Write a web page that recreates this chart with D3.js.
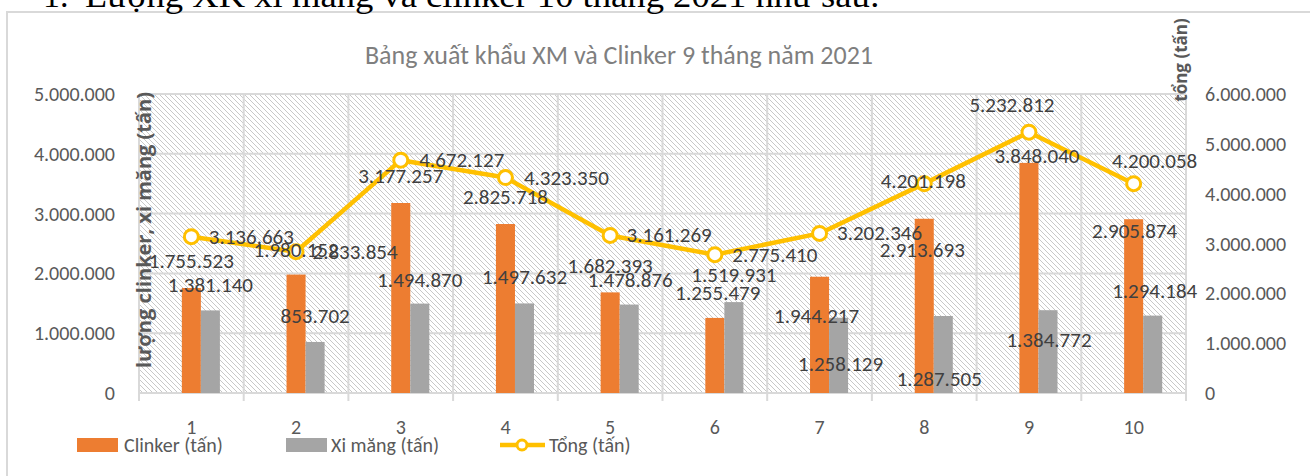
<!DOCTYPE html>
<meta charset="utf-8">
<script src="https://d3js.org/d3.v7.min.js"></script>
<style>
  body { margin: 0; background: #fff; overflow: hidden; }
  text { font-family: Calibri, Carlito, "Liberation Sans Narrow", "Arial Narrow", sans-serif; }
</style>
<div id="my_dataviz"></div>
<script>
// data (tấn)
var months = ["1", "2", "3", "4", "5", "6", "7", "8", "9", "10"]
var clinker = [1755523, 1980152, 3177257, 2825718, 1682393, 1255479, 1944217, 2913693, 3848040, 2905874]
var ximang = [1381140, 853702, 1494870, 1497632, 1478876, 1519931, 1258129, 1287505, 1384772, 1294184]
var tong = [3136663, 2833854, 4672127, 4323350, 3161269, 2775410, 3202346, 4201198, 5232812, 4200058]
var leftTicks = [0, 1000000, 2000000, 3000000, 4000000, 5000000]
var rightTicks = [0, 1000000, 2000000, 3000000, 4000000, 5000000, 6000000]

// hand placed data labels in the original (pixel nudges of the label centre)
var clinkerNudge = [[0,-27],[0,-25],[0,-27],[0,-27],[0,-26],[3,-25],[-3,39],[-2,31],[8,-7],[1,12]]
var ximangNudge = [[0,-25],[0,-26],[0,-24],[0,-26],[1,-25],[0,-27],[2,46],[-4,63],[1,30],[2,-25]]
var tongNudge = [[60,0],[59,0],[61,0],[61,0],[59,0],[60,0],[60,0],[-1,-3],[-17,-27],[21,-23]]

var fmt = d3.formatLocale({ decimal: ",", thousands: ".", grouping: [3], currency: ["", ""] }).format(",d")

var W = 1310, H = 476
var plot = { left: 139, right: 1186, top: 94, bottom: 393 }

var svg = d3.select("#my_dataviz").append("svg")
    .attr("width", W).attr("height", H)

// hatch for plot background
var defs = svg.append("defs")
defs.append("pattern")
    .attr("id", "hatch").attr("patternUnits", "userSpaceOnUse")
    .attr("width", 5).attr("height", 5)
    .append("path")
    .attr("d", "M0,0 L5,5 M-1,4 L1,6 M4,-1 L6,1")
    .attr("stroke", "#c8c8c8").attr("stroke-width", 1)

// chart frame
svg.append("rect")
    .attr("x", 7).attr("y", 12).attr("width", W).attr("height", H)
    .attr("fill", "#fff").attr("stroke", "#d9d9d9").attr("stroke-width", 2)

// document text above the chart (cut off at the top)
svg.append("text").text("1.")
    .attr("x", 43).attr("y", 7)
    .style("font-family", "'Liberation Serif', serif").style("font-size", "34px").attr("fill", "#000")
svg.append("text").text("Lượng XK xi măng và clinker 10 tháng 2021 như sau:")
    .attr("x", 85).attr("y", 7)
    .attr("textLength", 795).attr("lengthAdjust", "spacingAndGlyphs")
    .style("font-family", "'Liberation Serif', serif").style("font-size", "34px").attr("fill", "#000")

// title
svg.append("text").text("Bảng xuất khẩu XM và Clinker 9 tháng năm 2021")
    .attr("x", 619).attr("y", 64).attr("text-anchor", "middle")
    .style("font-size", "26px").attr("fill", "#7f7f7f")

// scales
var x = d3.scaleBand().domain(months).range([plot.left, plot.right]).padding(0)
var xSub = d3.scaleBand().domain(["_", "clinker", "ximang"]).range([0, x.bandwidth()])
    .paddingInner(0).paddingOuter(1.25)
var yL = d3.scaleLinear().domain([0, 5000000]).range([plot.bottom, plot.top])
var yR = d3.scaleLinear().domain([0, 6000000]).range([plot.bottom, plot.top])

svg.append("rect")
    .attr("x", plot.left).attr("y", plot.top)
    .attr("width", plot.right - plot.left).attr("height", plot.bottom - plot.top)
    .attr("fill", "url(#hatch)")

// horizontal grid
svg.append("g").selectAll("line").data(leftTicks).join("line")
    .attr("x1", plot.left).attr("x2", plot.right)
    .attr("y1", d => yL(d)).attr("y2", d => yL(d))
    .attr("stroke", "#d9d9d9").attr("stroke-width", 2)

// vertical grid + tick marks at category edges
var edges = months.map(m => x(m)).concat([plot.right])
svg.append("g").selectAll("line").data(edges).join("line")
    .attr("x1", d => d).attr("x2", d => d)
    .attr("y1", plot.top).attr("y2", plot.bottom + 8)
    .attr("stroke", "#d9d9d9").attr("stroke-width", 2)

// left axis labels
svg.append("g").selectAll("text").data(leftTicks).join("text")
    .attr("x", 115).attr("y", d => yL(d)).attr("dy", "0.35em")
    .attr("text-anchor", "end").style("font-size", "20px").attr("fill", "#595959")
    .text(d => fmt(d))

// right axis labels
svg.append("g").selectAll("text").data(rightTicks).join("text")
    .attr("x", 1205).attr("y", d => yR(d)).attr("dy", "0.35em")
    .style("font-size", "20px").attr("fill", "#595959")
    .text(d => fmt(d))

// x labels
svg.append("g").selectAll("text").data(months).join("text")
    .attr("x", d => x(d) + x.bandwidth() / 2).attr("y", 434)
    .attr("text-anchor", "middle").style("font-size", "20px").attr("fill", "#595959")
    .text(d => d)

// axis titles
svg.append("text").text("lượng clinker, xi măng (tấn)")
    .attr("transform", "translate(151,230) rotate(-90)")
    .attr("text-anchor", "middle")
    .style("font-family", "'Open Sans', sans-serif").style("font-weight", "700").style("font-size", "20px")
    .attr("fill", "#595959")
svg.append("text").text("tổng (tấn)")
    .attr("transform", "translate(1187,60) rotate(-90)")
    .attr("text-anchor", "middle")
    .style("font-family", "'Open Sans', sans-serif").style("font-weight", "700").style("font-size", "17px")
    .attr("fill", "#595959")

// bars
var rows = months.map((m, i) => ({ m: m, clinker: clinker[i], ximang: ximang[i] }))
var colors = { clinker: "#ED7D31", ximang: "#A5A5A5" }

svg.append("g").selectAll("g").data(rows).join("g")
    .attr("transform", d => "translate(" + x(d.m) + ",0)")
    .selectAll("rect")
    .data(d => ["clinker", "ximang"].map(k => ({ key: k, value: d[k] })))
    .join("rect")
    .attr("x", d => xSub(d.key))
    .attr("y", d => yL(d.value))
    .attr("width", xSub.bandwidth())
    .attr("height", d => plot.bottom - yL(d.value))
    .attr("fill", d => colors[d.key])

// line
var cx = m => x(m) + x.bandwidth() / 2
svg.append("path")
    .datum(tong)
    .attr("d", d3.line().x((d, i) => cx(months[i])).y(d => yR(d)))
    .attr("fill", "none").attr("stroke", "#FFC000").attr("stroke-width", 4.5)
    .attr("stroke-linejoin", "round")
svg.append("g").selectAll("circle").data(tong).join("circle")
    .attr("cx", (d, i) => cx(months[i])).attr("cy", d => yR(d)).attr("r", 7)
    .attr("fill", "#fff").attr("stroke", "#FFC000").attr("stroke-width", 3)

// data labels
var labelStyle = sel => sel.attr("text-anchor", "middle").attr("dominant-baseline", "central")
    .style("font-size", "21px").attr("fill", "#404040")

svg.append("g").selectAll("text").data(clinker).join("text")
    .call(labelStyle)
    .attr("x", (d, i) => x(months[i]) + xSub("clinker") + xSub.bandwidth() / 2 + clinkerNudge[i][0])
    .attr("y", (d, i) => yL(d) + clinkerNudge[i][1])
    .text(d => fmt(d))
svg.append("g").selectAll("text").data(ximang).join("text")
    .call(labelStyle)
    .attr("x", (d, i) => x(months[i]) + xSub("ximang") + xSub.bandwidth() / 2 + ximangNudge[i][0])
    .attr("y", (d, i) => yL(d) + ximangNudge[i][1])
    .text(d => fmt(d))
svg.append("g").selectAll("text").data(tong).join("text")
    .call(labelStyle)
    .attr("x", (d, i) => cx(months[i]) + tongNudge[i][0])
    .attr("y", (d, i) => yR(d) + tongNudge[i][1])
    .text(d => fmt(d))

// legend
var lg = svg.append("g").attr("class", "legend")
lg.append("rect").attr("x", 77).attr("y", 438).attr("width", 41).attr("height", 14).attr("fill", colors.clinker)
lg.append("text").attr("x", 124).attr("y", 445).attr("dy", "0.35em").text("Clinker (tấn)")
    .style("font-size", "20px").attr("fill", "#595959")
lg.append("rect").attr("x", 286).attr("y", 438).attr("width", 41).attr("height", 14).attr("fill", colors.ximang)
lg.append("text").attr("x", 331).attr("y", 445).attr("dy", "0.35em").text("Xi măng (tấn)")
    .style("font-size", "20px").attr("fill", "#595959")
lg.append("line").attr("x1", 500).attr("x2", 545).attr("y1", 445).attr("y2", 445)
    .attr("stroke", "#FFC000").attr("stroke-width", 4.5)
lg.append("circle").attr("cx", 522).attr("cy", 445).attr("r", 5)
    .attr("fill", "#fff").attr("stroke", "#FFC000").attr("stroke-width", 3)
lg.append("text").attr("x", 549).attr("y", 445).attr("dy", "0.35em").text("Tổng (tấn)")
    .style("font-size", "20px").attr("fill", "#595959")
</script>
